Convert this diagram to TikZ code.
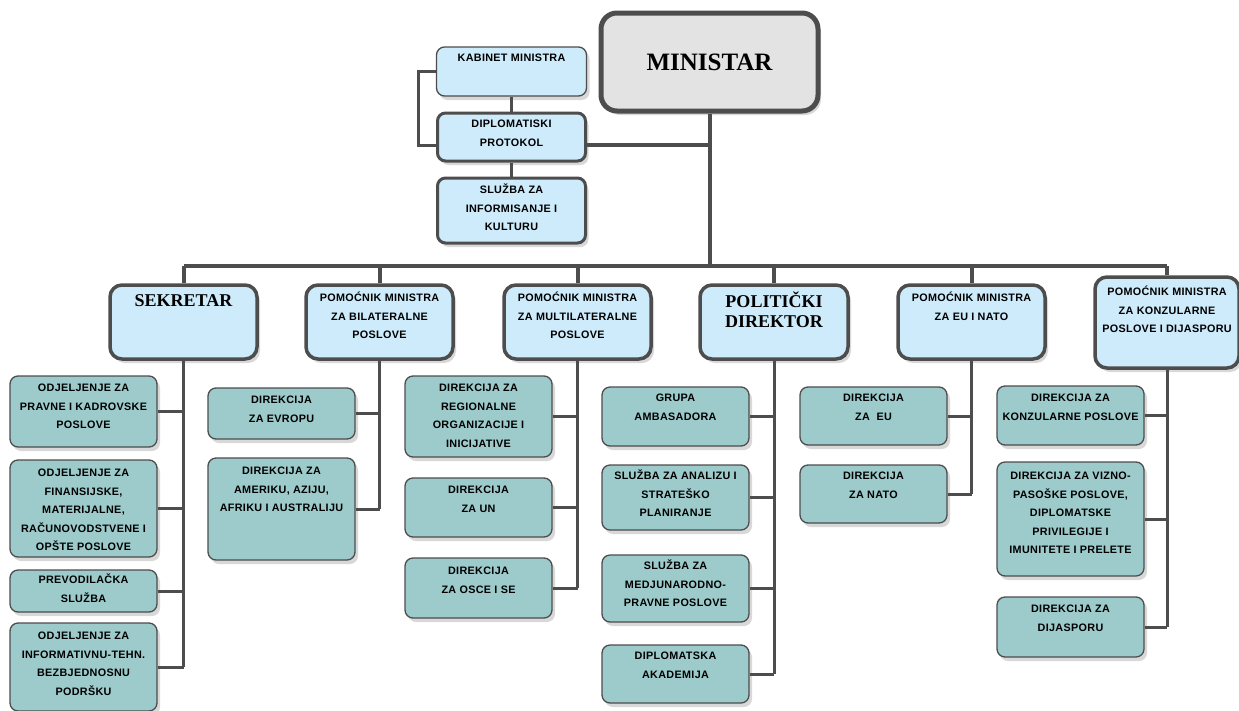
\documentclass[tikz,border=0pt]{standalone}
\usepackage{fontspec}
\setmainfont{Liberation Serif}
\newfontfamily\lsans[LetterSpace=3]{Liberation Sans}
\usetikzlibrary{shadows}
\definecolor{lblue}{HTML}{CDEBFA}
\definecolor{teal2}{HTML}{9DCBCB}
\definecolor{mgray}{HTML}{E3E3E3}
\definecolor{ln}{HTML}{4D4D4D}
\newcommand{\bt}[4][15.5pt]{\parbox[c][#3][t]{#2}{\centering\rule{0pt}{#1}#4\par}}
\tikzset{
  base/.style={draw=ln, rounded corners=8pt, inner sep=0pt,
    drop shadow={opacity=0.3, shadow xshift=3pt, shadow yshift=-4pt}},
  child/.style={base, fill=teal2, line width=1.3pt,
    font=\lsans\bfseries\fontsize{10.8}{18.5}\selectfont},
  head/.style={base, fill=lblue, line width=3.5pt, rounded corners=12pt,
    font=\lsans\bfseries\fontsize{10.8}{18.5}\selectfont},
  lite/.style={base, fill=lblue, line width=1.3pt,
    font=\lsans\bfseries\fontsize{10.8}{18.5}\selectfont},
  topbox/.style={base, fill=mgray, line width=5pt, rounded corners=16pt,
    minimum width=217pt, minimum height=98pt,
    font=\rmfamily\bfseries\fontsize{25}{28}\selectfont},
  conn/.style={draw=ln, line width=4pt},
  sub/.style={draw=ln, line width=3pt},
}
\begin{document}
\begin{tikzpicture}[x=1pt,y=-1pt]
\useasboundingbox[fill=white] (0,0) rectangle (1239,710);
% top part
\node[topbox] (min) at (709.5,62) {MINISTAR};
\node[lite] (kab) at (511.5,71.5) {\bt[14.5pt]{150pt}{49pt}{KABINET MINISTRA}};
\node[head, line width=3pt, rounded corners=8pt] (dip) at (511.5,137) {\bt[14.5pt]{148pt}{48pt}{DIPLOMATISKI\\PROTOKOL}};
\node[head, line width=3pt, rounded corners=8pt] (slu) at (511.5,210.5) {\bt[15.5pt]{148pt}{65pt}{SLUŽBA ZA\\INFORMISANJE I\\KULTURU}};
% headers
\node[head] (sek) at (183.5,322) {\bt[21pt]{147pt}{74pt}{\rmfamily\fontsize{18}{20}\selectfont SEKRETAR}};
\node[head] (bil) at (379.5,322) {\bt[16.5pt]{147pt}{74pt}{POMOĆNIK MINISTRA\\ZA BILATERALNE\\POSLOVE}};
\node[head] (mul) at (577.5,322) {\bt[16.5pt]{147pt}{74pt}{POMOĆNIK MINISTRA\\ZA MULTILATERALNE\\POSLOVE}};
\node[head] (pol) at (774,322) {\bt[22pt]{148pt}{74pt}{\rmfamily\fontsize{18}{20}\selectfont POLITIČKI\\DIREKTOR}};
\node[head] (eun) at (971.5,322) {\bt[16.5pt]{147pt}{74pt}{POMOĆNIK MINISTRA\\ZA EU I NATO}};
\node[head] (kon) at (1167,322.5) {\bt[18.5pt]{144pt}{91pt}{POMOĆNIK MINISTRA\\ZA KONZULARNE\\POSLOVE I DIJASPORU}};
% sekretar children
\node[child] (s1) at (83.5,411.5) {\bt{147pt}{71pt}{ODJELJENJE ZA\\PRAVNE I KADROVSKE\\POSLOVE}};
\node[child] (s2) at (83.5,508.5) {\bt[16.5pt]{147pt}{97pt}{ODJELJENJE ZA\\FINANSIJSKE,\\MATERIJALNE,\\RAČUNOVODSTVENE I\\OPŠTE POSLOVE}};
\node[child] (s3) at (83.5,591) {\bt[13.5pt]{147pt}{42pt}{PREVODILAČKA\\SLUŽBA}};
\node[child] (s4) at (83.5,667) {\bt[16.5pt]{147pt}{88pt}{ODJELJENJE ZA\\INFORMATIVNU-TEHN.\\BEZBJEDNOSNU\\PODRŠKU}};
% bilateral children
\node[child] (b1) at (281.5,413.5) {\bt{147pt}{51pt}{DIREKCIJA\\ZA EVROPU}};
\node[child] (b2) at (281.5,509) {\bt[16.5pt]{147pt}{102pt}{DIREKCIJA ZA\\AMERIKU, AZIJU,\\AFRIKU I AUSTRALIJU}};
% multilateral children
\node[child] (m1) at (478.5,416.5) {\bt{147pt}{81pt}{DIREKCIJA ZA\\REGIONALNE\\ORGANIZACIJE I\\INICIJATIVE}};
\node[child] (m2) at (478.5,507.5) {\bt{147pt}{59pt}{DIREKCIJA\\ZA UN}};
\node[child] (m3) at (478.5,588) {\bt[16.5pt]{147pt}{60pt}{DIREKCIJA\\ZA OSCE I SE}};
% politicki children
\node[child] (p1) at (675.5,416.5) {\bt[14.5pt]{147pt}{59pt}{GRUPA\\AMBASADORA}};
\node[child] (p2) at (675.5,497.5) {\bt[14.5pt]{147pt}{65pt}{SLUŽBA ZA ANALIZU I\\STRATEŠKO\\PLANIRANJE}};
\node[child] (p3) at (675.5,588.5) {\bt[14.5pt]{147pt}{67pt}{SLUŽBA ZA\\MEDJUNARODNO-\\PRAVNE POSLOVE}};
\node[child] (p4) at (675.5,674) {\bt[14.5pt]{147pt}{58pt}{DIPLOMATSKA\\AKADEMIJA}};
% EU children
\node[child] (e1) at (873.5,416) {\bt[14.5pt]{147pt}{58pt}{DIREKCIJA\\ZA~~EU}};
\node[child] (e2) at (873.5,494) {\bt[14.5pt]{147pt}{58pt}{DIREKCIJA\\ZA NATO}};
% konzularne children
\node[child] (k1) at (1070.5,415.5) {\bt{147pt}{59pt}{DIREKCIJA ZA\\KONZULARNE POSLOVE}};
\node[child] (k2) at (1070.5,519) {\bt[17.5pt]{147pt}{114pt}{DIREKCIJA ZA VIZNO-\\PASOŠKE POSLOVE,\\DIPLOMATSKE\\PRIVILEGIJE I\\IMUNITETE I PRELETE}};
\node[child] (k3) at (1070.5,627) {\bt{147pt}{60pt}{DIREKCIJA ZA\\DIJASPORU}};
% connectors top
\coordinate (busL) at (183.5,266);
\coordinate (busR) at (1167,266);
\draw[conn] (min.south) -- (min.south |- busL);
\draw[conn] (busL) -- (busR);
\foreach \h in {sek,bil,mul,pol,eun,kon} \draw[conn] (\h.north) -- (\h.north |- busL);
\draw[sub] (kab.west) -- ++(-17,0) |- ([yshift=-8pt]dip.west);
\draw[sub] (kab.south) -- (dip.north);
\draw[sub] (dip.south) -- (slu.north);
\draw[conn] ([yshift=-8pt]dip.east) -- ([yshift=-8pt]dip.east -| min.south);
% children connectors
\foreach \c in {s1,s2,s3,s4} \draw[sub] (\c.east) -- (\c.east -| sek.south);
\draw[sub] (sek.south) -- (sek.south |- s4.east);
\foreach \c in {b1,b2} \draw[sub] (\c.east) -- (\c.east -| bil.south);
\draw[sub] (bil.south) -- (bil.south |- b2.east);
\foreach \c in {m1,m2,m3} \draw[sub] (\c.east) -- (\c.east -| mul.south);
\draw[sub] (mul.south) -- (mul.south |- m3.east);
\foreach \c in {p1,p2,p3,p4} \draw[sub] (\c.east) -- (\c.east -| pol.south);
\draw[sub] (pol.south) -- (pol.south |- p4.east);
\foreach \c in {e1,e2} \draw[sub] (\c.east) -- (\c.east -| eun.south);
\draw[sub] (eun.south) -- (eun.south |- e2.east);
\foreach \c in {k1,k2,k3} \draw[sub] (\c.east) -- (\c.east -| kon.south);
\draw[sub] (kon.south) -- (kon.south |- k3.east);
\end{tikzpicture}
\end{document}
